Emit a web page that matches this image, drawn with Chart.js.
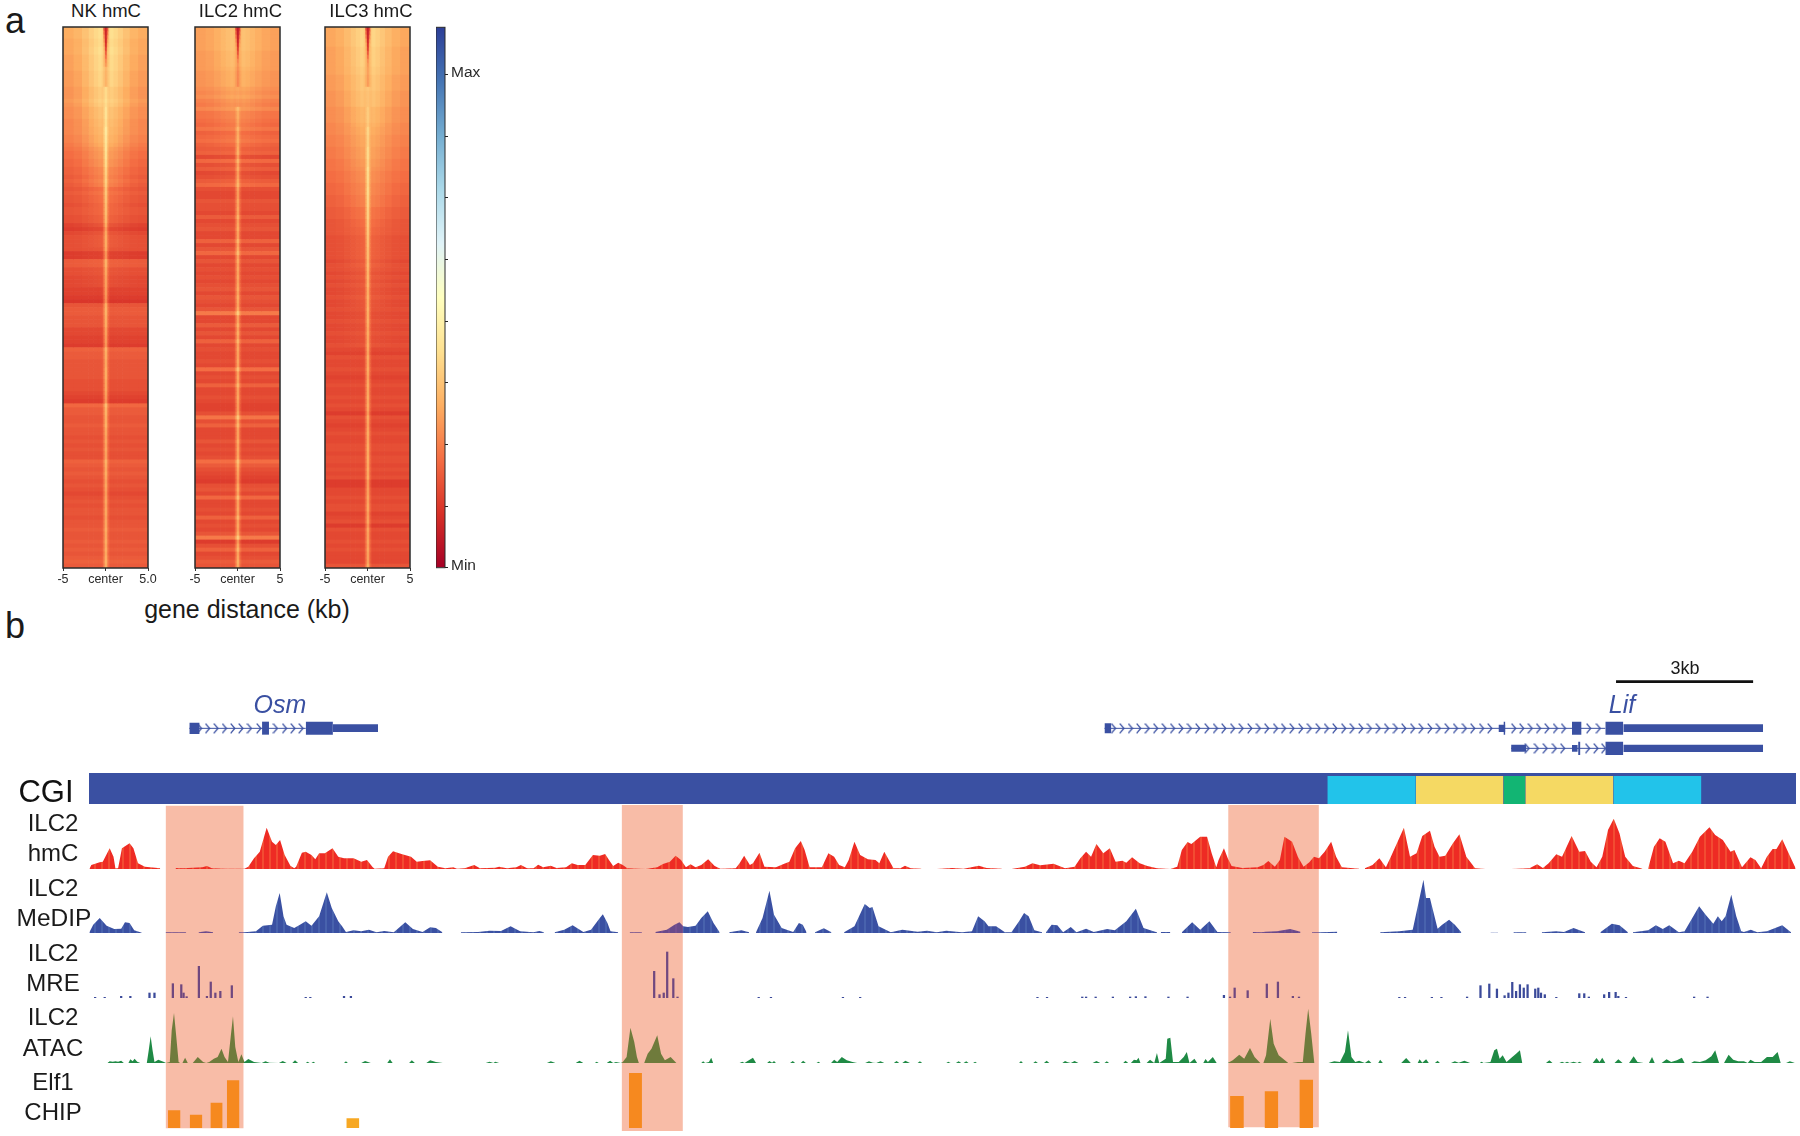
<!DOCTYPE html>
<html>
<head>
<meta charset="utf-8">
<title>hmC heatmaps and Osm / Lif tracks</title>
<script src="https://cdn.jsdelivr.net/npm/chart.js@4"></script>
<style>
  html, body { margin: 0; background: #fff; }
  #figure { position: relative; width: 1800px; height: 1136px; overflow: hidden; font-family: "Liberation Sans", Arial, sans-serif; color: #1a1a1a; }
  #figure canvas { position: absolute; }
  .label { position: absolute; transform: translate(-50%, -50%); white-space: nowrap; line-height: 1; }
</style>
</head>
<body>
<div id="figure"></div>
<script>
// Panel a: colour scale levels (0 = Min end, 100 = top of the bar)
const cmapLevels = [0, 10, 20, 30, 40, 50, 60, 70, 80, 90, 100];
const cmapColors = ['#a50026', '#d73027', '#f46d43', '#fdae61', '#fee090', '#ffffbf', '#e0f3f8', '#abd9e9', '#74add1', '#4575b4', '#2c3e97'];

// Panel a: level of each heatmap row away from the centre, top row first
const nkRows = [
  30,30,30,29,29,29,29,28,28,28,28,27,27,27,27,
  26,26,26,27,26,25,25,25,24,24,24,24,23,23,22,
  21,20,20,19,19,18,18,17,18,17,16,17,16,16,15,
  16,16,15,15,13,12,14,15,15,15,15,12,12,17,17,
  15,15,14,14,14,13,13,12,11,16,17,17,16,16,16,
  14,14,13,13,12,18,17,17,16,16,16,16,16,15,15,
  15,14,13,12,19,17,17,16,16,17,16,16,15,16,15,
  16,15,15,18,17,16,17,16,15,16,15,14,15,16,15,
  16,16,15,16,16,17,16,16,17,16,17,16,17,18,17
];
const ilc2Rows = [
  28,28,28,28,28,28,27,27,27,27,27,26,26,26,26,
  25,24,25,23,22,24,21,21,20,19,21,18,19,20,18,
  17,18,14,19,15,17,14,15,17,19,15,14,14,16,15,
  15,14,17,14,15,16,14,14,18,14,16,19,14,16,14,
  15,14,15,14,15,16,14,16,15,14,16,22,14,14,17,
  14,16,14,18,14,15,14,14,15,14,20,14,15,14,18,
  14,14,15,14,13,13,15,21,15,18,14,14,14,16,14,
  15,14,15,20,17,15,14,13,12,15,16,14,19,14,14,
  15,14,18,14,15,14,16,22,12,15,18,14,15,17,16
];
const ilc3Rows = [
  29,29,29,29,29,28,28,28,28,28,28,28,27,27,27,
  27,26,26,26,26,25,25,25,25,24,24,24,23,23,23,
  22,22,22,21,21,21,20,20,20,19,19,19,18,18,18,
  17,17,17,16,16,16,16,15,15,15,15,15,15,14,15,
  15,14,15,14,15,14,14,15,14,14,15,14,14,15,14,
  14,15,14,14,15,14,13,15,14,14,15,14,13,14,15,
  14,14,15,14,15,14,12,15,14,13,14,15,14,14,15,
  15,14,15,15,14,15,14,15,12,12,14,14,15,14,15,
  15,13,14,15,12,15,14,14,15,14,15,14,14,14,16
];

// Panel a: how much the centre line and its shoulders differ from the row level, per block of five rows
const nkCentre = [0,0,4,13,16,19,20,19,18,17,15,14,14,14,14,14,13,14,14,14,13,13,13,13,13,13,13];
const ilc2Centre = [0,0,-2,4,9,11,13,13,13,14,14,14,14,14,14,14,14,14,14,14,14,14,14,14,14,14,14];
const ilc3Centre = [0,0,0,8,11,14,17,19,20,20,19,18,17,16,16,15,15,15,15,15,15,15,15,14,14,14,14];
const nkShoulder = [10,11,11,10,9,8,7,6,4,3,2,1,1,0,0,0,0,0,0,0,0,0,0,0,0,0,0];
const ilc2Shoulder = [6,6,5,4,3,2,1,1,0,0,0,0,0,0,0,0,0,0,0,0,0,0,0,0,0,0,0];
const ilc3Shoulder = [9,9,8,8,7,6,6,5,5,4,3,3,2,2,1,1,0,0,0,0,0,0,0,0,0,0,0];

// Panel a: the dark notch at the top of the centre line, first ten rows only
const notchCore = [-22,-22,-21,-20,-18,-15,-11,-7,-3,-1];
const notchFlank = [-18,-14,-10,-6,-3,-1,0,0,0,0];

// Panel a: column edges (kb from centre) and how strongly each column takes those values
const columnEdges = [-5,-3.8,-2.8,-2,-1.4,-0.9,-0.5,-0.3,-0.12,0.12,0.3,0.5,0.9,1.4,2,2.8,3.8,5];
const shoulderWeights = [0,0.15,0.4,0.65,0.85,1,0.8,0.4,0,0.4,0.8,1,0.85,0.65,0.4,0.15,0];
const centreWeights = [0,0,0,0,0,0,0.08,0.5,1,0.5,0.08,0,0,0,0,0,0];
const coreWeights = [0,0,0,0,0,0,0,0,1,0,0,0,0,0,0,0,0];
const flankWeights = [0,0,0,0,0,0,0,1,0,1,0,0,0,0,0,0,0];

const heatTickValues = [-5, 0, 5];
const nkTickLabels = ['-5', 'center', '5.0'];
const otherTickLabels = ['-5', 'center', '5'];
const barTickValues = [0, 1, 2, 3, 4, 5, 6, 7, 8];
const barTickLabels = ['Min', '', '', '', '', '', '', '', 'Max'];

// Panel b: shared x axis, bins of about 8.4 bp. Points are [bin, signal], null signal = no data
const trackBins = 4458;

const hmcPoints = [
  [1,0],[6,12],[28,20],[36,22],[54,62],[64,37],[69,2],[76,2],[86,62],[106,77],[116,62],[128,17],[146,7],[186,2],[199,null],
  [226,3],[246,2],[296,5],[308,9],[321,2],[356,1],[406,1],[416,7],[431,32],[446,52],[464,124],[478,82],[488,72],[499,87],
  [511,42],[526,10],[536,2],[541,7],[556,49],[566,52],[581,42],[591,29],[601,47],[616,47],[636,62],[651,37],[666,32],[691,32],
  [711,22],[726,27],[741,5],[746,1],[771,2],[781,37],[794,53],[816,45],[841,37],[856,22],[871,24],[891,26],[911,7],[931,2],
  [951,5],[961,1],[981,2],[1006,12],[1021,2],[1061,4],[1071,7],[1091,2],[1116,5],[1128,12],[1144,2],[1161,2],[1173,13],
  [1186,5],[1206,10],[1221,3],[1246,5],[1261,17],[1276,12],[1296,12],[1316,42],[1334,40],[1348,45],[1358,27],[1369,9],
  [1382,19],[1394,12],[1406,2],[1434,1],[1454,0],[1484,5],[1499,15],[1517,22],[1532,40],[1546,27],[1559,5],[1571,14],
  [1584,5],[1599,12],[1617,29],[1634,9],[1649,1],[1689,2],[1699,17],[1711,40],[1726,12],[1734,17],[1751,49],[1764,7],
  [1794,5],[1814,15],[1829,22],[1844,62],[1859,84],[1869,57],[1882,5],[1914,5],[1931,47],[1946,37],[1959,12],[1974,5],
  [1984,27],[1999,82],[2014,42],[2034,29],[2054,27],[2064,17],[2077,52],[2089,27],[2101,2],[2119,2],[2131,10],[2146,2],
  [2174,1],[2190,null],[2214,0],[2254,3],[2284,1],[2324,10],[2344,3],[2384,1],[2396,null],[2409,0],[2444,7],[2464,17],
  [2484,11],[2519,16],[2549,2],[2574,7],[2589,32],[2604,52],[2617,37],[2631,75],[2649,47],[2666,62],[2681,22],[2699,25],
  [2709,19],[2724,35],[2744,17],[2764,9],[2789,2],[2824,0],[2842,7],[2854,57],[2869,81],[2879,75],[2902,97],[2920,97],
  [2932,47],[2944,5],[2950,27],[2964,62],[2974,32],[2984,9],[3012,3],[3052,5],[3067,12],[3080,24],[3097,7],[3110,27],
  [3122,97],[3142,82],[3157,37],[3172,7],[3187,20],[3199,37],[3212,32],[3227,52],[3244,82],[3257,37],[3272,5],[3317,1],
  [3325,null],[3332,2],[3352,12],[3370,32],[3387,5],[3402,42],[3434,124],[3450,37],[3467,47],[3482,99],[3502,115],[3514,67],
  [3527,37],[3542,40],[3562,77],[3579,104],[3597,37],[3620,2],[3647,0],[3680,null],[3714,0],[3762,2],[3782,14],[3797,3],
  [3812,17],[3832,44],[3847,37],[3872,99],[3892,52],[3907,54],[3922,22],[3937,5],[3952,37],[3967,117],[3982,151],[3997,107],
  [4012,37],[4032,9],[4057,1],[4064,null],[4072,2],[4087,67],[4102,92],[4117,82],[4137,17],[4152,25],[4167,17],[4187,52],
  [4207,97],[4232,125],[4247,102],[4267,87],[4287,52],[4297,57],[4317,5],[4339,35],[4352,27],[4367,2],[4382,37],[4397,60],
  [4407,60],[4422,89],[4437,52],[4457,2]
];

const medipPoints = [
  [1,2],[11,25],[28,45],[46,22],[66,12],[84,13],[94,32],[106,30],[118,8],[138,1],[139,null],
  [200,2],[254,2],[255,null],[286,2],[306,5],[324,2],[325,null],[391,2],[406,2],[436,5],[454,22],[478,25],[488,80],[498,120],
  [508,50],[516,25],[536,15],[551,25],[566,35],[581,22],[601,50],[621,122],[634,75],[651,35],[661,20],[671,3],[691,8],[711,5],
  [731,10],[751,2],[771,6],[791,3],[796,2],[811,17],[826,32],[846,12],[871,3],[891,17],[906,15],[923,2],[924,null],
  [971,2],[1016,3],[1046,7],[1076,6],[1101,20],[1126,5],[1151,3],[1161,2],[1176,6],[1188,2],[1189,null],[1216,2],[1241,10],
  [1263,23],[1291,3],[1311,10],[1334,45],[1342,56],[1354,30],[1362,5],[1382,2],[1383,null],[1412,2],[1444,2],[1445,null],
  [1479,3],[1509,10],[1529,25],[1542,32],[1552,20],[1564,18],[1584,22],[1599,45],[1616,65],[1631,30],[1647,2],[1648,null],
  [1672,2],[1704,8],[1724,2],[1725,null],[1742,2],[1759,45],[1777,127],[1789,55],[1809,15],[1839,3],[1854,30],[1864,25],
  [1874,2],[1875,null],[1896,2],[1919,14],[1939,2],[1940,null],[1972,2],[1999,20],[2026,87],[2039,75],[2046,78],[2062,20],
  [2094,2],[2124,10],[2164,4],[2189,7],[2214,2],[2239,7],[2279,2],[2306,5],[2322,50],[2339,35],[2349,20],[2369,20],[2392,2],
  [2409,2],[2429,35],[2442,60],[2454,50],[2469,8],[2489,2],[2490,null],[2499,2],[2514,25],[2529,23],[2544,2],[2564,18],
  [2579,2],[2604,13],[2624,3],[2659,12],[2679,8],[2709,35],[2734,73],[2754,15],[2784,4],[2789,2],[2790,null],[2799,3],
  [2824,3],[2825,null],[2854,2],[2881,32],[2902,10],[2926,35],[2947,3],[2982,2],[2983,null],[3039,3],[3062,2],[3072,4],
  [3102,5],[3137,12],[3164,4],[3165,null],[3194,2],[3217,2],[3260,4],[3261,null],[3372,2],[3422,5],[3457,10],[3472,90],
  [3485,160],[3492,105],[3502,105],[3522,13],[3534,25],[3552,40],[3567,25],[3584,2],[3585,null],[3660,1],[3680,1],[3681,null],
  [3720,2],[3754,2],[3755,null],[3794,2],[3832,5],[3852,3],[3877,15],[3907,2],[3908,null],[3947,2],[3977,28],[3997,23],
  [4019,2],[4020,null],[4032,2],[4072,8],[4092,23],[4110,12],[4127,23],[4152,2],[4167,5],[4205,80],[4222,55],[4242,28],
  [4254,50],[4264,35],[4274,50],[4289,115],[4302,50],[4315,5],[4322,3],[4340,10],[4357,2],[4382,5],[4422,23],[4445,2]
];

const mrePoints = [
  [16,2],[41,2],[84,5],[108,5],[158,15],[171,15],[219,43],[241,40],[247,15],[255,4],[287,95],[308,5],[318,48],[330,15],
  [343,20],[373,37],[566,2],[578,2],[666,5],[684,5],[1476,80],[1490,10],[1501,15],[1510,138],[1526,58],[1537,3],[1749,2],
  [1781,2],[1969,2],[2014,2],[2477,2],[2502,2],[2594,3],[2604,3],[2629,3],[2674,3],[2719,3],[2734,4],[2759,4],[2819,3],
  [2869,3],[2964,8],[2980,3],[2992,30],[3026,22],[3076,42],[3105,48],[3144,5],[3160,3],[3422,2],[3437,2],[3507,2],[3532,2],
  [3599,3],[3634,37],[3657,42],[3677,27],[3697,7],[3707,15],[3717,47],[3727,20],[3737,40],[3747,30],[3757,40],[3777,27],
  [3785,30],[3792,15],[3802,10],[3832,2],[3892,13],[3905,13],[3917,3],[3957,10],[3970,17],[3987,17],[3994,5],[4014,2],
  [4192,3],[4227,3]
];

const atacPoints = [
  [48,0],[54,5],[62,4],[69,5],[76,4],[84,7],[91,0],[103,0],[108,11],[114,5],[119,13],[126,4],[134,0],[151,0],[156,38],[161,80],
  [166,38],[171,3],[181,10],[196,3],[201,0],[211,3],[216,98],[222,150],[228,78],[234,3],[238,0],[244,0],[251,16],[258,0],[271,0],
  [284,18],[298,3],[306,0],[314,3],[326,13],[336,18],[346,43],[354,18],[363,3],[370,78],[376,140],[382,48],[390,3],[398,26],
  [406,3],[416,12],[431,3],[451,0],[461,5],[471,1],[496,0],[506,6],[516,0],[531,0],[538,8],[546,0],[566,0],[571,4],[576,0],
  [581,0],[586,4],[591,0],[666,0],[671,5],[676,0],[711,0],[721,6],[736,0],[779,0],[786,11],[793,0],[836,0],[843,8],[851,0],
  [881,0],[891,8],[906,3],[924,0],[1036,0],[1046,4],[1056,0],[1061,4],[1071,0],[1196,0],[1206,5],[1218,0],[1271,0],[1281,7],
  [1291,0],[1321,0],[1326,4],[1331,0],[1352,0],[1361,7],[1369,0],[1376,3],[1389,0],[1394,3],[1404,18],[1414,106],[1424,63],
  [1431,18],[1436,0],[1450,0],[1459,28],[1469,43],[1484,83],[1494,28],[1504,8],[1519,18],[1534,0],[1599,0],[1604,5],[1609,0],
  [1619,3],[1625,16],[1630,0],[1699,0],[1706,4],[1712,0],[1719,5],[1734,16],[1742,0],[1771,0],[1777,6],[1784,1],[1789,6],[1794,0],
  [1831,0],[1838,6],[1844,0],[1859,0],[1865,7],[1872,0],[1900,0],[1905,4],[1910,0],[1938,0],[1946,10],[1954,3],[1966,18],
  [1979,8],[1994,3],[2006,0],[2027,0],[2037,5],[2047,1],[2056,0],[2067,5],[2077,0],[2102,0],[2109,6],[2116,0],[2124,0],[2132,7],
  [2144,0],[2164,0],[2170,5],[2176,0],[2239,0],[2244,4],[2250,0],[2264,0],[2271,5],[2278,0],[2284,0],[2291,5],[2297,0],[2309,0],
  [2314,4],[2319,0],[2429,0],[2434,6],[2439,0],[2466,0],[2472,5],[2478,0],[2494,0],[2501,7],[2508,0],[2542,0],[2549,6],[2556,2],
  [2564,0],[2574,6],[2584,0],[2621,0],[2631,6],[2641,0],[2652,0],[2658,5],[2664,0],[2701,0],[2707,7],[2714,0],[2721,0],[2729,10],
  [2736,8],[2741,16],[2746,0],[2762,0],[2771,10],[2782,0],[2789,30],[2795,0],[2812,13],[2816,73],[2824,76],[2831,3],[2846,3],
  [2859,18],[2867,33],[2874,0],[2887,13],[2894,0],[2910,0],[2916,12],[2922,3],[2935,18],[2945,0],[2974,0],[2987,8],[3004,25],
  [3017,13],[3032,45],[3044,18],[3059,0],[3067,0],[3074,23],[3085,133],[3094,58],[3107,23],[3132,0],[3142,0],[3157,3],[3170,3],
  [3177,88],[3184,163],[3192,88],[3200,0],[3237,0],[3252,5],[3267,3],[3280,33],[3288,98],[3297,18],[3307,3],[3317,7],[3332,0],
  [3342,8],[3349,0],[3367,0],[3372,10],[3379,0],[3427,0],[3440,15],[3452,0],[3470,0],[3475,11],[3482,1],[3492,11],[3499,0],
  [3515,0],[3522,7],[3528,0],[3557,0],[3567,5],[3577,1],[3592,7],[3607,0],[3632,0],[3637,4],[3642,0],[3660,3],[3670,38],[3677,43],
  [3684,13],[3692,23],[3702,3],[3717,18],[3727,28],[3737,38],[3743,0],[3805,0],[3814,8],[3822,0],[3840,0],[3847,4],[3854,0],
  [3860,4],[3867,0],[3877,4],[3887,0],[3892,4],[3899,0],[3927,0],[3937,15],[3945,3],[3952,16],[3960,0],[3984,0],[3994,11],[4005,0],
  [4022,0],[4034,20],[4044,3],[4060,0],[4074,0],[4082,18],[4089,0],[4107,0],[4120,11],[4132,3],[4147,8],[4160,16],[4167,0],[4184,0],
  [4192,5],[4207,3],[4222,8],[4237,20],[4247,38],[4257,0],[4270,0],[4282,25],[4294,10],[4307,5],[4322,5],[4332,0],[4339,10],
  [4350,3],[4367,3],[4382,18],[4397,18],[4410,33],[4418,0],[4432,0],[4442,5],[4455,0]
];

// Elf1 CHIP bars
const chipStarts = [206, 263, 317, 360, 672, 1410, 2980, 3070, 3161];
const chipEnds = [239, 296, 349, 393, 706, 1444, 3016, 3106, 3197];
const chipValues = [53, 40, 76, 143, 29, 165, 96, 110, 145];
const chipColors = ['#f6891f', '#f6891f', '#f6891f', '#f6891f', '#f7a823', '#f6891f', '#f6891f', '#f6891f', '#f6891f'];

// CGI strip
const cgiStarts = [3234, 3465, 3694, 3751, 3981];
const cgiEnds = [3465, 3694, 3751, 3981, 4211];
const cgiColors = ['#22c3ea', '#f5d963', '#12b573', '#f5d963', '#22c3ea'];

// Salmon highlight regions
const highlightStarts = [200, 1391, 2975];
const highlightEnds = [404, 1551, 3212];
const highlightTops = [979, 981, 981];
const highlightBottoms = [11, 3, 14];

// Gene models: [start, end, top, bottom] boxes, [start, end, height] introns, chevron bins per row
const geneBoxes = [
  [262,289,112,78],[452,470,115,76],[566,637,115,76],[637,755,107,84],
  [2652,2670,110,80],[3681,3699,106,84],[3694,3699,115,76],[3873,3898,115,76],[3960,4007,115,76],[4007,4372,107,84],
  [3714,3754,46,25],[3873,3888,45,25],[3889,3895,55,15],[3960,4007,55,15],[4007,4372,46,24]
];
const geneIntrons = [[262,566,95],[2652,3960,95],[3714,3960,35]];
const upperRowHeight = 95;
const lowerRowHeight = 35;
const upperChevrons = [
  289,310,332,354,376,397,419,444,487,511,533,554,
  2676,2698,2720,2742,2764,2786,2808,2830,2852,2874,2896,2920,2942,2964,2987,3009,3032,3054,3076,3099,3120,3142,3165,3187,
  3210,3232,3254,3277,3299,3322,3344,3367,3389,3412,3434,3457,3479,3502,3524,3547,3569,3592,3614,3637,3659,
  3721,3742,3764,3786,3808,3830,3851,3917,3942
];
const lowerChevrons = [3756,3780,3803,3827,3849,3914,3936,3956];
const scaleBarBins = [3988, 4346];
const scaleBarHeight = 235;

const geneBlue = '#3a50a2';
const figure = document.getElementById('figure');

Chart.defaults.font.family = '"Liberation Sans", Arial, sans-serif';
Chart.defaults.animation = false;
Chart.defaults.responsive = false;
Chart.defaults.plugins.legend.display = false;
Chart.defaults.plugins.tooltip.enabled = false;

function addChart(left, top, width, height, config) {
    const canvas = document.createElement('canvas');
    canvas.width = width;
    canvas.height = height;
    canvas.style.left = left + 'px';
    canvas.style.top = top + 'px';
    figure.appendChild(canvas);
    return new Chart(canvas, config);
}

function addLabel(text, x, y, size, extra) {
    const div = document.createElement('div');
    div.className = 'label';
    div.textContent = text;
    div.style.left = x + 'px';
    div.style.top = y + 'px';
    div.style.fontSize = size + 'px';
    Object.assign(div.style, extra || {});
    figure.appendChild(div);
}

function levelToColor(level) {
    const clamped = Math.max(0, Math.min(100, level));
    let i = 0;
    while (i < cmapLevels.length - 2 && clamped > cmapLevels[i + 1]) i++;
    const t = (clamped - cmapLevels[i]) / (cmapLevels[i + 1] - cmapLevels[i]);
    const a = cmapColors[i], b = cmapColors[i + 1];
    const mix = p => Math.round(parseInt(a.substr(p, 2), 16) * (1 - t) + parseInt(b.substr(p, 2), 16) * t);
    return `rgb(${mix(1)},${mix(3)},${mix(5)})`;
}

// Dark outline round a panel
function framePlugin(color, width) {
    return {
        id: 'frame',
        afterDraw(chart) {
            const { ctx, chartArea } = chart;
            ctx.save();
            ctx.strokeStyle = color;
            ctx.lineWidth = width;
            ctx.strokeRect(chartArea.left, chartArea.top, chartArea.right - chartArea.left, chartArea.bottom - chartArea.top);
            ctx.restore();
        }
    };
}

function heatColumnDatasets(rows, shoulder, centre) {
    return shoulderWeights.map((weight, c) => ({
        data: rows.map(() => [columnEdges[c], columnEdges[c + 1]]),
        backgroundColor: rows.map((level, r) => {
            const block = Math.floor(r / 5);
            const notch = coreWeights[c] * (notchCore[r] || 0) + flankWeights[c] * (notchFlank[r] || 0);
            return levelToColor(level + weight * shoulder[block] + centreWeights[c] * centre[block] + notch);
        }),
        barPercentage: 1,
        categoryPercentage: 1,
        grouped: false
    }));
}

function heatPanel(left, rows, shoulder, centre, tickLabels) {
    addChart(left - 30, 22, 145, 570, {
        type: 'bar',
        data: { labels: rows.map((v, r) => r), datasets: heatColumnDatasets(rows, shoulder, centre) },
        options: {
            indexAxis: 'y',
            layout: { padding: { left: 30, right: 30, top: 5, bottom: 0 } },
            scales: {
                y: { display: false },
                x: {
                    type: 'linear',
                    min: -5,
                    max: 5,
                    grid: { drawOnChartArea: false, drawTicks: true, tickLength: 3, color: '#333' },
                    border: { display: false },
                    afterBuildTicks: axis => { axis.ticks = heatTickValues.map(v => ({ value: v })); },
                    afterFit: axis => { axis.height = 24; },
                    ticks: {
                        autoSkip: false,
                        maxRotation: 0,
                        padding: 1,
                        color: '#2a2a2a',
                        font: { size: 12.5 },
                        callback: (v, i) => tickLabels[i]
                    }
                }
            }
        },
        plugins: [framePlugin('#2b2b2b', 1.5)]
    });
}

heatPanel(63, nkRows, nkShoulder, nkCentre, nkTickLabels);
heatPanel(195, ilc2Rows, ilc2Shoulder, ilc2Centre, otherTickLabels);
heatPanel(325, ilc3Rows, ilc3Shoulder, ilc3Centre, otherTickLabels);

// Colour bar
const colorBar = addChart(436, 15, 55, 565, {
    type: 'bar',
    data: { labels: ['scale'], datasets: [{ data: [[0, 8.77]], barPercentage: 1, categoryPercentage: 1, backgroundColor: '#f46d43' }] },
    options: {
        layout: { padding: { top: 12, bottom: 12, left: 0, right: 0 } },
        scales: {
            x: { display: false },
            y: {
                position: 'right',
                min: 0,
                max: 8.77,
                grid: { drawOnChartArea: false, drawTicks: true, tickLength: 3, color: '#222' },
                border: { display: false },
                afterBuildTicks: axis => { axis.ticks = barTickValues.map(v => ({ value: v })); },
                afterFit: axis => { axis.width = 46; },
                ticks: { autoSkip: false, padding: 3, labelOffset: -2, color: '#2a2a2a', font: { size: 15.5 }, callback: (v, i) => barTickLabels[i] }
            }
        }
    },
    plugins: [framePlugin('#2b2b2b', 1)]
});
const barGradient = colorBar.ctx.createLinearGradient(0, colorBar.chartArea.bottom, 0, colorBar.chartArea.top);
cmapLevels.forEach((level, i) => barGradient.addColorStop(level / 100, cmapColors[i]));
colorBar.data.datasets[0].backgroundColor = barGradient;
colorBar.update();

// Panel b helpers
const binAxis = { type: 'linear', display: false, min: 0, max: trackBins, offset: false };
const signalAxis = top => ({ type: 'linear', display: false, min: 0, max: top });
const flatLayout = { padding: 0, autoPadding: false };

function spanDataset(start, end, top, bottom, color) {
    return {
        type: 'line',
        data: [{ x: start, y: top }, { x: end, y: top }],
        fill: { target: { value: bottom } },
        backgroundColor: color,
        borderWidth: 0,
        pointRadius: 0
    };
}

function toXY(points) {
    return points.map(p => ({ x: p[0], y: p[1] }));
}

// Colour strip for a track: stripes every few pixels, tinted inside the highlight regions
function trackPattern(chart, base, stripe, insideBase, insideStripe) {
    const strip = document.createElement('canvas');
    strip.width = chart.width;
    strip.height = 1;
    const sctx = strip.getContext('2d');
    const x = chart.scales.x;
    for (let px = 0; px < strip.width; px++) {
        const inside = highlightStarts.some((s, i) => px >= x.getPixelForValue(s) && px < x.getPixelForValue(highlightEnds[i]));
        const striped = px % 7 > 4;
        sctx.fillStyle = inside ? (striped ? insideStripe : insideBase) : (striped ? stripe : base);
        sctx.fillRect(px, 0, 1, 1);
    }
    return chart.ctx.createPattern(strip, 'repeat');
}

function signalTrack(top, height, points, colors) {
    const chart = addChart(89, top, 1707, height, {
        type: 'line',
        data: { datasets: [{ data: toXY(points), fill: 'origin', borderWidth: 0, pointRadius: 0, tension: 0, backgroundColor: colors[0] }] },
        options: { layout: flatLayout, scales: { x: binAxis, y: signalAxis(height * 3) } }
    });
    chart.data.datasets[0].backgroundColor = trackPattern(chart, ...colors);
    chart.update();
}

// Highlights go first so every track sits on top of them
addChart(89, 805, 1707, 327, {
    type: 'line',
    data: { datasets: highlightStarts.map((s, i) => spanDataset(s, highlightEnds[i], highlightTops[i], highlightBottoms[i], '#f8bca7')) },
    options: { layout: flatLayout, scales: { x: binAxis, y: signalAxis(981) } }
});

signalTrack(806, 63, hmcPoints, ['#ee2b24', '#f24c32', '#ee2b24', '#f24c32']);
signalTrack(873, 60, medipPoints, ['#3a50a2', '#4862ad', '#6a4a8a', '#744f90']);
signalTrack(1003, 60, atacPoints, ['#1f8a45', '#1f8a45', '#6f7b3c', '#6f7b3c']);

// MRE sticks
const mreChart = addChart(89, 948, 1707, 50, {
    type: 'bar',
    data: { datasets: [{ data: toXY(mrePoints), barThickness: 1.6, backgroundColor: '#3b4a9a' }] },
    options: { layout: flatLayout, scales: { x: binAxis, y: signalAxis(150) } }
});
mreChart.data.datasets[0].backgroundColor = trackPattern(mreChart, '#3b4a9a', '#3b4a9a', '#70487f', '#70487f');
mreChart.update();

// Elf1 CHIP
addChart(89, 1065, 1707, 63, {
    type: 'line',
    data: { datasets: chipStarts.map((s, i) => spanDataset(s, chipEnds[i], chipValues[i], 0, chipColors[i])) },
    options: { layout: flatLayout, scales: { x: binAxis, y: signalAxis(189) } }
});

// CGI strip: Chart.js draws the first dataset on top, so the blue band goes last
addChart(89, 773, 1707, 31, {
    type: 'line',
    data: {
        datasets: cgiStarts.map((s, i) => spanDataset(s, cgiEnds[i], 84, 0, cgiColors[i]))
            .concat([spanDataset(0, trackBins, 93, 0, geneBlue)])
    },
    options: { layout: flatLayout, scales: { x: binAxis, y: signalAxis(93) } }
});

// Gene models and scale bar
const chevron = document.createElement('canvas');
chevron.width = 6;
chevron.height = 11;
const chevronCtx = chevron.getContext('2d');
chevronCtx.strokeStyle = geneBlue;
chevronCtx.lineWidth = 1.3;
chevronCtx.beginPath();
chevronCtx.moveTo(0.7, 0.7);
chevronCtx.lineTo(4.8, 5.5);
chevronCtx.lineTo(0.7, 10.3);
chevronCtx.stroke();

function lineDataset(start, end, height, color, width) {
    return { type: 'line', data: [{ x: start, y: height }, { x: end, y: height }], borderColor: color, borderWidth: width, pointRadius: 0, fill: false };
}
function chevronDataset(bins, height) {
    return { type: 'line', showLine: false, data: bins.map(b => ({ x: b, y: height })), pointStyle: chevron, pointRadius: 5 };
}

addChart(89, 670, 1707, 90, {
    type: 'line',
    data: {
        datasets: geneBoxes.map(b => spanDataset(b[0], b[1], b[2], b[3], geneBlue))
            .concat([chevronDataset(upperChevrons, upperRowHeight), chevronDataset(lowerChevrons, lowerRowHeight)])
            .concat(geneIntrons.map(g => lineDataset(g[0], g[1], g[2], geneBlue, 1)))
            .concat([lineDataset(scaleBarBins[0], scaleBarBins[1], scaleBarHeight, '#111', 2.6)])
    },
    options: { layout: flatLayout, scales: { x: binAxis, y: signalAxis(270) } }
});

// Text
addLabel('a', 15, 21, 36);
addLabel('b', 15, 626, 36);
addLabel('NK hmC', 106, 11, 18.5);
addLabel('ILC2 hmC', 240.5, 11, 18.5);
addLabel('ILC3 hmC', 371, 11, 18.5);
addLabel('gene distance (kb)', 247, 609, 25);
addLabel('3kb', 1685, 668, 18);
addLabel('Osm', 280, 704, 25, { fontStyle: 'italic', color: geneBlue });
addLabel('Lif', 1622, 704, 25, { fontStyle: 'italic', color: geneBlue });
addLabel('CGI', 46, 791, 31, { color: '#111' });
addLabel('ILC2', 53, 823, 24);
addLabel('hmC', 53, 853, 24);
addLabel('ILC2', 53, 888, 24);
addLabel('MeDIP', 54, 918, 24.5);
addLabel('ILC2', 53, 953, 24);
addLabel('MRE', 53, 983, 24);
addLabel('ILC2', 53, 1017, 24);
addLabel('ATAC', 53, 1048, 24);
addLabel('Elf1', 53, 1082, 24);
addLabel('CHIP', 53, 1112, 24);
</script>
</body>
</html>
